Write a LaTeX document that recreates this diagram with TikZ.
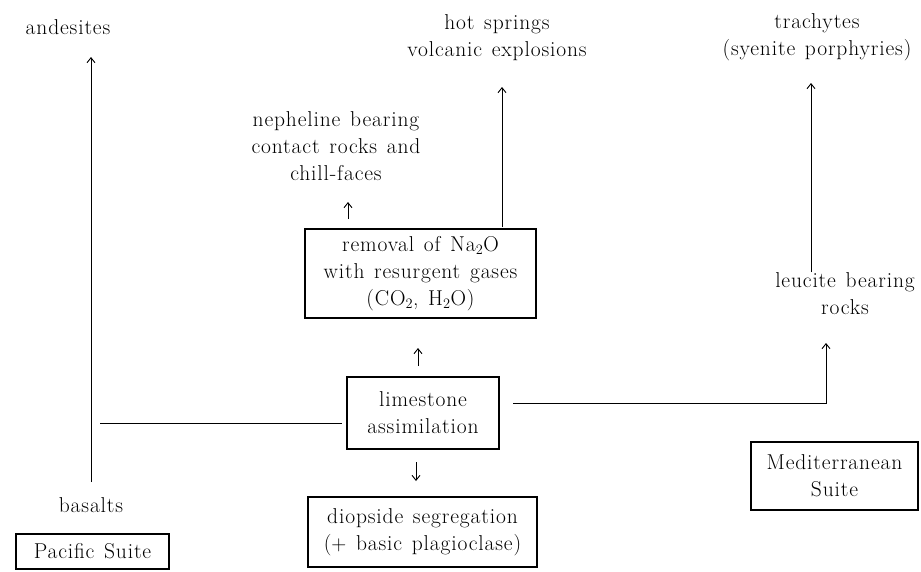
\documentclass[tikz,border=0pt]{standalone}
\usepackage{fontspec}
\setmainfont{Latin Modern Roman}[LetterSpace=4]
\usetikzlibrary{arrows.meta}
\newcommand\diagfont{\fontsize{21.5}{27}\selectfont\spaceskip=0.45em plus 0.1em\relax}
\begin{document}
\begin{tikzpicture}[x=1pt,y=-1pt,
  every node/.style={font=\diagfont, align=center, inner sep=0pt},
  box/.style={draw, line width=1.5pt},
  conn/.style={line width=0.9pt},
  arr/.style={conn, -{Straight Barb[length=5pt,width=8pt,line width=0.9pt]}}]
\useasboundingbox (0,0) rectangle (921,571);

% text labels
\node (andes) at (68,27) {andesites};
\node (hot) at (497,38) {hot springs\\volcanic explosions};
\node (trach) at (817,37) {trachytes\\(syenite porphyries)};
\node (neph) at (336,146) {nepheline bearing\\contact rocks and\\chill-faces};
\node (leuc) at (845,294) {leucite bearing\\rocks};
\node (bas) at (91,505) {basalts};

% boxes
\node[box, minimum width=231pt, minimum height=89pt] (rem) at (420.5,273.5)
  {removal of Na$_2$O\\with resurgent gases\\(CO$_2$, H$_2$O)};
\node[box, minimum width=152pt, minimum height=72pt] (lime) at (423,413)
  {limestone\\assimilation};
\node[box, minimum width=229pt, minimum height=70pt] (diop) at (422.5,532)
  {diopside segregation\\($+$ basic plagioclase)};
\node[box, minimum width=153pt, minimum height=35pt] (pac) at (92.5,551.5)
  {Pacific Suite};
\node[box, minimum width=167pt, minimum height=68pt] (med) at (834.5,476)
  {Mediterranean\\Suite};

% coordinates for connector ends
\coordinate (lbot) at (91,482);
\coordinate (ltop) at (91,57);
\coordinate (hl) at (100,423);
\coordinate (hr) at (342,423);
\coordinate (r1) at (513,403);
\coordinate (r2) at (826,343);
\coordinate (t1) at (811,272);
\coordinate (t2) at (811,83);
\coordinate (h1) at (502,227);
\coordinate (h2) at (502,87);
\coordinate (n1) at (348,219);
\coordinate (n2) at (348,202);
\coordinate (m1) at (418,366);
\coordinate (m2) at (418,348);
\coordinate (d1) at (416,462);
\coordinate (d2) at (416,481);

% connectors
\draw[arr] (lbot) -- (ltop);
\draw[conn] (hl) -- (hr);
\draw[arr] (r1) -| (r2);
\draw[arr] (t1) -- (t2);
\draw[arr] (h1) -- (h2);
\draw[arr] (n1) -- (n2);
\draw[arr] (m1) -- (m2);
\draw[arr] (d1) -- (d2);
\end{tikzpicture}
\end{document}
